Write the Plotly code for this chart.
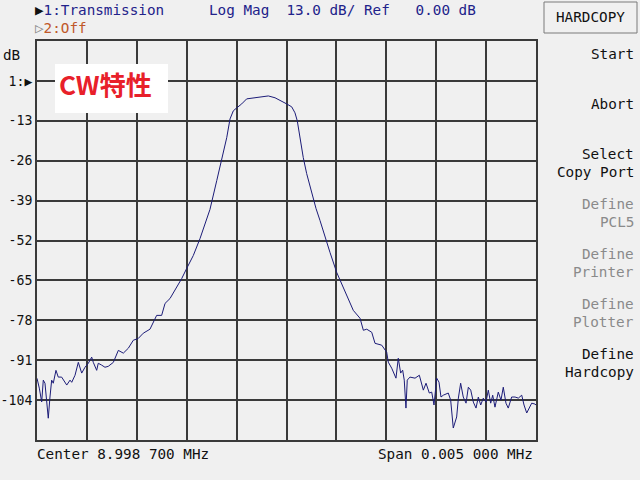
import plotly.graph_objects as go

# Frequency offset from center 8.998 700 MHz (Hz), and transmission (dB)
freq_offset_hz = [
    -2500, -2477, -2453, -2437, -2420, -2403, -2387, -2370, -2353, -2337,
    -2310, -2287, -2253, -2202, -2169, -2152, -2119, -2086, -2052, -2019,
    -1986, -1952, -1936, -1902, -1886, -1852, -1819, -1786, -1735, -1685,
    -1635, -1585, -1535, -1485, -1435, -1368, -1301, -1251, -1217, -1167,
    -1100, -1050, -1000, -934, -867, -817, -767, -699, -649, -599,
    -566, -533, -499, -449, -399, -333, -266, -182, -115, -48,
    2, 52, 85, 108, 135, 168, 202, 252, 296, 336,
    386, 436, 503, 569, 619, 669, 737, 770, 804, 854,
    887, 954, 1004, 1020, 1054, 1097, 1120, 1144, 1164, 1180,
    1197, 1210, 1237, 1288, 1331, 1371, 1398, 1431, 1455, 1478,
    1505, 1528, 1548, 1571, 1621, 1645, 1671, 1705, 1722, 1745,
    1771, 1799, 1822, 1846, 1872, 1899, 1922, 1946, 1972, 1999,
    2022, 2046, 2066, 2089, 2122, 2149, 2172, 2199, 2222, 2256,
    2290, 2323, 2357, 2380, 2407, 2433, 2457, 2490, 2500,
]
transmission_db = [
    -96.9, -100.1, -104.6, -97.5, -98.5, -103.4, -109.9, -103.0, -97.5, -98.5,
    -94.3, -96.5, -96.5, -99.1, -97.5, -98.2, -95.9, -91.7, -95.2, -93.3,
    -92.0, -90.0, -91.7, -94.3, -92.0, -92.6, -93.3, -93.0, -91.7, -87.8,
    -88.7, -87.1, -84.5, -83.9, -82.2, -80.9, -76.4, -76.4, -72.5, -70.9,
    -67.3, -64.4, -61.1, -56.9, -51.4, -46.5, -41.9, -32.5, -26.0, -18.5,
    -12.4, -9.75, -8.8, -7.5, -5.85, -5.5, -5.2, -4.9, -5.5, -6.5,
    -7.5, -8.45, -10.4, -13.0, -18.5, -25.0, -30.2, -36.4, -41.6, -45.5,
    -51.0, -55.9, -62.4, -67.3, -71.5, -74.75, -77.35, -81.25, -80.9, -81.9,
    -85.5, -86.1, -88.4, -91.65, -93.6, -96.85, -90.35, -95.2, -94.25, -97.5,
    -106.6, -97.5, -96.5, -96.85, -95.9, -100.75, -98.5, -101.7, -101.4, -105.6,
    -96.85, -98.15, -103.0, -102.4, -101.7, -104.0, -113.1, -109.5, -103.35, -98.5,
    -103.0, -105.0, -99.8, -100.75, -104.65, -106.6, -103.0, -105.6, -103.35, -104.65,
    -100.75, -105.0, -102.4, -106.3, -101.4, -104.0, -99.8, -105.0, -106.6, -103.0,
    -103.0, -103.35, -102.4, -105.6, -108.2, -106.3, -105.0, -105.3, -105.6,
]

y_tick_vals = [0, -13, -26, -39, -52, -65, -78, -91, -104]
y_tick_text = ["1:▶", "-13", "-26", "-39", "-52", "-65", "-78", "-91", "-104"]

menu_items = [
    ("Start", 54, "#111111"),
    ("Abort", 104, "#111111"),
    ("Select", 154, "#111111"),
    ("Copy Port", 172, "#111111"),
    ("Define", 204, "#8a8a8a"),
    ("PCL5", 222, "#8a8a8a"),
    ("Define", 254, "#8a8a8a"),
    ("Printer", 272, "#8a8a8a"),
    ("Define", 304, "#8a8a8a"),
    ("Plotter", 322, "#8a8a8a"),
    ("Define", 354, "#111111"),
    ("Hardcopy", 372, "#111111"),
]

BG = "#f0f0f0"
GRID = "#3a3a3a"
MONO = "DejaVu Sans Mono"
FS = 14.3

L, R, T, B = 37, 536, 41, 440
W, H = R - L, B - T


def px(x):
    return (x - L) / W


def py(y):
    return (B - y) / H


fig = go.Figure()
fig.add_trace(go.Scatter(
    x=freq_offset_hz, y=transmission_db, mode="lines",
    line=dict(color="#1c1c78", width=1), hoverinfo="skip", showlegend=False,
))

fig.update_layout(
    width=640, height=480,
    margin=dict(l=L, r=640 - R, t=T, b=480 - B, pad=0, autoexpand=False),
    paper_bgcolor=BG, plot_bgcolor=BG,
    font=dict(family=MONO, size=FS, color="#111111"),
    xaxis=dict(range=[-2500, 2500], dtick=500, tick0=0, showticklabels=False,
               ticks="", showgrid=True, gridcolor=GRID, gridwidth=1.5,
               showline=True, linecolor=GRID, linewidth=2, mirror=True,
               zeroline=False, fixedrange=True, automargin=False),
    yaxis=dict(range=[-117, 13], tickvals=y_tick_vals, ticktext=y_tick_text,
               ticks="", showgrid=True, gridcolor=GRID, gridwidth=1.5,
               showline=True, linecolor=GRID, linewidth=2, mirror=True,
               zeroline=False, fixedrange=True, automargin=False,
               tickfont=dict(family=MONO, size=13.2, color="#111111")),
)

annotations = []


def add_text(text, x, y, xanchor="left", color="#111111", size=FS, family=MONO):
    annotations.append(dict(
        text=text, x=px(x), y=py(y), xref="paper", yref="paper",
        xanchor=xanchor, yanchor="middle", showarrow=False,
        font=dict(family=family, size=size, color=color),
    ))


add_text("<span style='color:#111111'>▶</span>1:Transmission", 33, 10, color="#22228a")
add_text("Log Mag  13.0 dB/ Ref   0.00 dB", 207, 10, color="#22228a")
add_text("<span style='color:#8a8a8a'>▷</span>2:Off", 33, 28, color="#c0582a")
add_text("dB", 1, 55)
add_text("Center 8.998 700 MHz", 35, 454)
add_text("Span 0.005 000 MHz", 535, 454, xanchor="right")
add_text("HARDCOPY", 590, 17, xanchor="center")
for label, yy, col in menu_items:
    add_text(label, 636, yy, xanchor="right", color=col)

fig.update_layout(annotations=annotations)

shapes = [
    dict(type="rect", xref="paper", yref="paper",
         x0=px(544), x1=px(637), y0=py(33), y1=py(2),
         line=dict(color="#7a7a7a", width=1), fillcolor=BG, layer="above"),
    dict(type="rect", xref="paper", yref="paper",
         x0=px(55), x1=px(168), y0=py(113), y1=py(64),
         line=dict(width=0), fillcolor="#ffffff", layer="above"),
]
fig.update_layout(shapes=shapes)

fig.add_annotation(text="<b>CW特性</b>", x=px(57), y=py(83), xref="paper", yref="paper",
                   xanchor="left", yanchor="middle", showarrow=False,
                   font=dict(family="Noto Sans CJK JP", size=26, color="#e8202a"))

fig.write_html("out.html")
